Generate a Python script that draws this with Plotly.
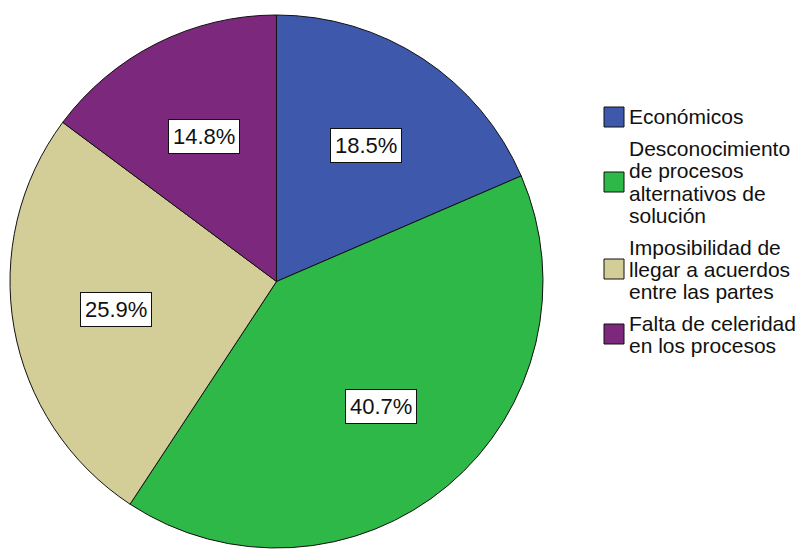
import math
import plotly.graph_objects as go

# Pie chart data (percent of respondents)
categories = [
    "Económicos",
    "Desconocimiento<br>de procesos<br>alternativos de<br>solución",
    "Imposibilidad de<br>llegar a acuerdos<br>entre las partes",
    "Falta de celeridad<br>en los procesos",
]
values = [18.5, 40.7, 25.9, 14.8]
colors = ["#3E58AC", "#2EB848", "#D3CE97", "#7C287D"]

FONT = "Liberation Sans, Arial, sans-serif"
W, H = 811, 555
ml, mr, mt, mb = 2, 0, 6, 14
pw, ph = W - ml - mr, H - mt - mb
dom_x = [0, 533 / pw]


def to_paper(fx, fy):
    # figure pixels -> paper coordinates
    return (fx - ml) / pw, 1 - (fy - mt) / ph


fig = go.Figure(
    go.Pie(
        labels=[c.replace("<br>", " ") for c in categories],
        values=values,
        sort=False,
        direction="clockwise",
        rotation=0,
        marker=dict(colors=colors, line=dict(color="#111111", width=1)),
        textinfo="none",
        hoverinfo="label+percent",
        showlegend=False,
        domain=dict(x=dom_x, y=[0, 1]),
    )
)

# percentage boxes at each slice mid-angle
total = sum(values)
cx = ml + (dom_x[0] + dom_x[1]) / 2 * pw
cy = mt + ph / 2
r = min((dom_x[1] - dom_x[0]) * pw, ph) / 2
cum = 0
for v in values:
    mid = (cum + v / 2) / total * 2 * math.pi
    cum += v
    x, y = to_paper(cx + 0.61 * r * math.sin(mid), cy - 0.61 * r * math.cos(mid))
    fig.add_annotation(
        x=x, y=y, xref="paper", yref="paper", xanchor="center", yanchor="middle",
        text=f"{v:.1f}%", showarrow=False,
        font=dict(family=FONT, size=22, color="#111111"),
        bgcolor="white", bordercolor="#111111", borderwidth=1, borderpad=4,
    )

# legend drawn by hand: tight line spacing like the original
line_h, item_gap = 22, 10
sw = 20
sx, tx = 596, 619
fy = 109
for name, col in zip(categories, colors):
    lines = name.split("<br>")
    top = fy
    for ln in lines:
        x, y = to_paper(tx, fy)
        fig.add_annotation(
            x=x, y=y, xref="paper", yref="paper", xanchor="left", yanchor="middle",
            text=ln, showarrow=False,
            font=dict(family=FONT, size=21, color="#111111"),
        )
        fy += line_h
    mid_y = (top + fy - line_h) / 2
    x0, y0 = to_paper(sx, mid_y - sw / 2)
    x1, y1 = to_paper(sx + sw, mid_y + sw / 2)
    fig.add_shape(
        type="rect", xref="paper", yref="paper", x0=x0, x1=x1, y0=y1, y1=y0,
        fillcolor=col, line=dict(color="#111111", width=1),
    )
    fy += item_gap

fig.update_layout(
    width=W, height=H,
    margin=dict(l=ml, r=mr, t=mt, b=mb),
    paper_bgcolor="white",
    font=dict(family=FONT, size=16, color="#111111"),
)

fig.write_html("out.html")
